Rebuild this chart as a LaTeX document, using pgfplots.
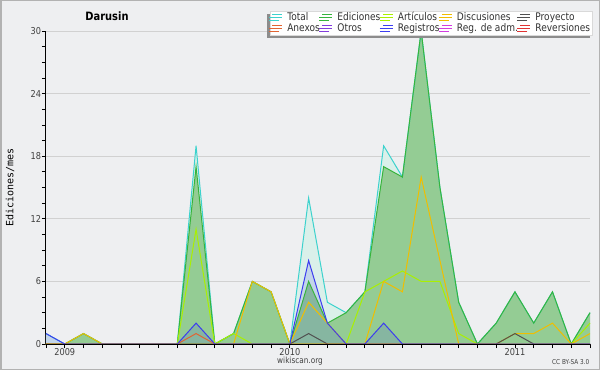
\documentclass[border=0pt]{standalone}
\usepackage{pgfplots}
\pgfplotsset{compat=1.18}
\usepackage{pgfplotstable}
\usepackage{fontspec}
\usetikzlibrary{shadows}
\newfontfamily\cfont{DejaVu Sans}[FakeStretch=0.86]
\newfontfamily\cmono{DejaVu Sans Mono}
\definecolor{bg}{RGB}{238,239,241}
\definecolor{ctot}{RGB}{60,210,205}
\definecolor{ced}{RGB}{55,180,60}
\definecolor{cart}{RGB}{170,240,0}
\definecolor{cdis}{RGB}{240,190,0}
\definecolor{cpro}{RGB}{80,80,80}
\definecolor{canx}{RGB}{225,100,50}
\definecolor{cotr}{RGB}{130,60,220}
\definecolor{creg}{RGB}{60,60,240}
\definecolor{cadm}{RGB}{210,60,225}
\definecolor{crev}{RGB}{225,50,50}
\definecolor{totfill}{RGB}{218,240,234}
\definecolor{edfill}{RGB}{148,204,148}

\pgfplotstableread{
i tot ed art dis pro anx otr reg adm rev
0 1 0 0 0 0 0 0 1 0 0
1 0 0 0 0 0 0 0 0 0 0
2 1 1 0 1 0 0 0 0 0 0
3 0 0 0 0 0 0 0 0 0 0
4 0 0 0 0 0 0 0 0 0 0
5 0 0 0 0 0 0 0 0 0 0
6 0 0 0 0 0 0 0 0 0 0
7 0 0 0 0 0 0 0 0 0 0
8 19 17 11 0 0 1 0 2 0 0
9 0 0 0 0 0 0 0 0 0 0
10 1 1 1 0 0 0 0 0 0 0
11 6 6 0 6 0 0 0 0 0 0
12 5 5 0 5 0 0 0 0 0 0
13 0 0 0 0 0 0 0 0 0 0
14 14 6 0 4 1 0 0 8 0 0
15 4 2 0 2 0 0 0 2 0 0
16 3 3 0 0 0 0 0 0 0 0
17 5 5 5 0 0 0 0 0 0 0
18 19 17 6 6 0 0 0 2 0 0
19 16 16 7 5 0 0 0 0 0 0
20 30 30 6 16 0 0 0 0 0 0
21 15 15 6 8 0 0 0 0 0 0
22 4 4 1 0 0 0 0 0 0 0
23 0 0 0 0 0 0 0 0 0 0
24 2 2 0 0 0 0 0 0 0 0
25 5 5 0 1 1 0 0 0 0 0
26 2 2 0 1 0 0 0 0 0 0
27 5 5 0 2 0 0 0 0 0 0
28 0 0 0 0 0 0 0 0 0 0
29 3 3 2 1 0 0 0 0 0 0
}\data

\begin{document}
\begin{tikzpicture}
\fill[bg] (0pt,0pt) rectangle (600pt,370pt);
\draw[black!30, line width=1.5pt] (0.75pt,0.75pt) rectangle (599.25pt,369.25pt);
\node[font=\cfont\bfseries\fontsize{11.5}{12}\selectfont, anchor=base, text=black] at (107pt,349.3pt) {Darusin};
\node[font=\cfont\fontsize{8.5}{9}\selectfont, anchor=base, text=black!75] at (300pt,6.7pt) {wikiscan.org};
\node[font=\cfont\fontsize{6.7}{7}\selectfont, anchor=base east, text=black!75, inner sep=0pt] at (589.5pt,6pt) {CC BY-SA 3.0};
\begin{axis}[
  at={(46pt,26pt)}, anchor=origin,
  scale only axis, width=544pt, height=313pt,
  xmin=0, xmax=29, ymin=0, ymax=30,
  clip=false,
  axis lines=left, axis line style={-, black, line width=1pt},
  xtick={1,13,25}, xticklabels={2009,2010,2011},
  minor xtick={0,...,29},
  ytick={0,6,...,30},
  minor ytick={1.5,3,...,30},
  tick align=outside, major tick length=4pt, minor tick length=4pt,
  every tick/.style={black, line width=0.8pt},
  ymajorgrids, grid style={black!18, line width=0.8pt},
  /pgf/number format/assume math mode=true,
  ticklabel style={font=\cfont\fontsize{9.5}{10}\selectfont, text=black!75},
  xticklabel style={inner sep=0.5pt},
  yticklabel style={inner sep=0.8pt},
  ylabel={Ediciones/mes},
  ylabel style={font=\cmono\fontsize{10}{11}\selectfont, at={(axis description cs:-0.0662,0.5)}, anchor=center},
  legend columns=5,
  legend cell align=left,
  legend image code/.code={\path (0pt,0pt) -- (10pt,0pt);\draw[#1, line width=0.9pt] (0pt,3.2pt) -- (10pt,3.2pt);},
  legend style={
    at={(1.0055,1.064)}, anchor=north east,
    draw=black!15, fill=white, line width=0.6pt,
    font=\cfont\fontsize{10.5}{11}\selectfont,
    text=black!80,
    inner xsep=2pt, inner ysep=1pt,
    /tikz/every even column/.append style={column sep=1.5pt},
    /tikz/every odd column/.append style={column sep=4pt},
    nodes={inner sep=0.5pt, text height=7.7pt, text depth=2.3pt},
    drop shadow={shadow xshift=-3pt, shadow yshift=-3pt, fill=black!45, opacity=1},
  },
]
\addplot[draw=none, fill=totfill, forget plot] table[x=i,y=tot]{\data} \closedcycle;
\addplot[draw=none, fill=edfill, forget plot] table[x=i,y=ed]{\data} \closedcycle;
\addplot[draw=none, fill=creg, fill opacity=0.15, forget plot] table[x=i,y=reg]{\data} \closedcycle;
\addplot[color=ctot, line width=1pt] table[x=i,y=tot]{\data};
\addlegendentry{Total}
\addplot[color=ced, line width=1pt] table[x=i,y=ed]{\data};
\addlegendentry{Ediciones}
\addplot[color=cart, line width=1pt] table[x=i,y=art]{\data};
\addlegendentry{Artículos}
\addplot[color=cdis, line width=1pt] table[x=i,y=dis]{\data};
\addlegendentry{Discusiones}
\addplot[color=cpro, line width=1pt] table[x=i,y=pro]{\data};
\addlegendentry{Proyecto}
\addplot[color=canx, line width=1pt] table[x=i,y=anx]{\data};
\addlegendentry{Anexos}
\addplot[color=cotr, line width=1pt] table[x=i,y=otr]{\data};
\addlegendentry{Otros}
\addplot[color=creg, line width=1pt] table[x=i,y=reg]{\data};
\addlegendentry{Registros}
\addplot[color=cadm, line width=1pt] table[x=i,y=adm]{\data};
\addlegendentry{Reg. de adm.}
\addplot[color=crev, line width=1pt] table[x=i,y=rev]{\data};
\addlegendentry{Reversiones}
\draw[black, line width=1pt] (axis cs:0,0) -- (axis cs:29,0);
\end{axis}
\end{tikzpicture}
\end{document}
